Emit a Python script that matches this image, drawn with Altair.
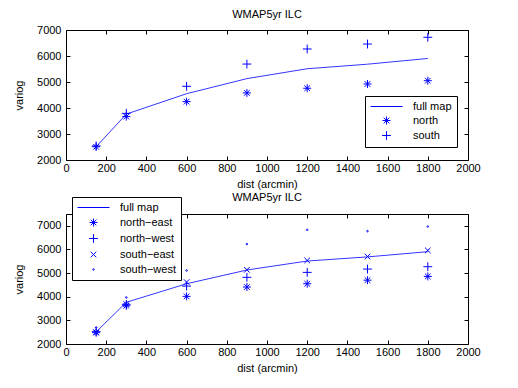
import altair as alt
import pandas as pd

# ---- data ----
dist = [150, 300, 600, 900, 1200, 1500, 1800]
full_map = [2510, 3765, 4550, 5130, 5510, 5685, 5905]

north = [2510, 3670, 4245, 4580, 4760, 4925, 5050]
south = [2540, 3795, 4835, 5690, 6270, 6460, 6720]

north_east = [2480, 3620, 4015, 4410, 4550, 4700, 4860]
north_west = [2520, 3680, 4450, 4820, 5030, 5170, 5270]
south_east = [2500, 3690, 4620, 5140, 5535, 5700, 5960]
south_west = [2700, 3970, 5110, 6225, 6830, 6775, 6970]

x_ticks = list(range(0, 2001, 200))
y_ticks = [2000, 3000, 4000, 5000, 6000, 7000]

FONT = "Liberation Sans"
BLUE = "#0000ff"

LINE_PATH = "M-4,0L4,0"
ASTER = "M-1,0L1,0M0,-1L0,1M-0.7,-0.7L0.7,0.7M-0.7,0.7L0.7,-0.7"
PLUS = "M-1.1,0L1.1,0M0,-1.1L0,1.1"
XMARK = "M-0.7,-0.7L0.7,0.7M-0.7,0.7L0.7,-0.7"
DOT = "M-0.2,0A0.2,0.2,0,1,0,0.2,0A0.2,0.2,0,1,0,-0.2,0Z"


def panel(names, values, paths, ydomain, lx, ly, title_offset, row_pad):
    line_df = pd.DataFrame({"dist": dist, "variog": full_map})
    rows = []
    for name, vals in zip(names, values):
        for d, v in zip(dist, vals):
            rows.append({"dist": d, "variog": v, "series": name})
    pts_df = pd.DataFrame(rows)

    xscale = alt.Scale(domain=[0, 2000], nice=False, zero=False)
    yscale = alt.Scale(domain=ydomain, nice=False, zero=False)

    x_main = alt.Axis(orient="bottom", values=x_ticks, title="dist (arcmin)",
                      format="d", offset=-4, tickSize=4, labelPadding=2,
                      titlePadding=5, domain=False, grid=False, labelFlush=False)
    y_main = alt.Axis(orient="left", values=y_ticks, title="variog", format="d",
                      offset=-4, tickSize=4, labelPadding=5, titlePadding=12,
                      domain=False, grid=False)
    x_sec = alt.Axis(orient="top", values=x_ticks, title=None, labels=False,
                     offset=-4, tickSize=4, domain=False, grid=False)
    y_sec = alt.Axis(orient="right", values=y_ticks, title=None, labels=False,
                     offset=-4, tickSize=4, domain=False, grid=False)

    line = alt.Chart(line_df).mark_line(color=BLUE, strokeWidth=0.8).encode(
        x=alt.X("dist:Q", scale=xscale, axis=x_main),
        y=alt.Y("variog:Q", scale=yscale, axis=y_main),
    )
    pts = alt.Chart(pts_df).mark_point(
        filled=False, color=BLUE, strokeWidth=1, size=64, opacity=1
    ).encode(
        x=alt.X("dist:Q", scale=xscale, axis=x_sec),
        y=alt.Y("variog:Q", scale=yscale, axis=y_sec),
        shape=alt.Shape(
            "series:N",
            scale=alt.Scale(domain=["full map"] + names, range=[LINE_PATH] + paths),
            legend=alt.Legend(
                title=None, orient="none", legendX=lx, legendY=ly,
                strokeColor="black", fillColor="white", padding=5,
                symbolSize=64, symbolStrokeWidth=1, symbolStrokeColor=BLUE,
                symbolOffset=11, labelOffset=21, rowPadding=row_pad,
                labelFont=FONT, labelFontSize=11, labelColor="black",
            ),
        ),
    )
    return alt.layer(line, pts).properties(
        width=402, height=130,
        title=alt.TitleParams("WMAP5yr ILC", frame="group", offset=title_offset),
    )


top = panel(["north", "south"], [north, south], [ASTER, PLUS],
            [2000, 7000], 299, 66, 4, 2)
bottom = panel(["north\u2212east", "north\u2212west", "south\u2212east", "south\u2212west"],
               [north_east, north_west, south_east, south_west],
               [ASTER, PLUS, XMARK, DOT], [2000, 7500], 6, -17, -6, 3)

chart = (
    alt.vconcat(top, bottom, spacing=54, bounds="flush")
    .resolve_scale(x="independent", y="independent", shape="independent")
    .configure_view(stroke="black", strokeWidth=1)
    .configure_axis(labelFont=FONT, labelFontSize=11, titleFont=FONT,
                    titleFontSize=11, titleFontWeight="normal",
                    labelColor="black", titleColor="black", tickColor="black")
    .configure_title(font=FONT, fontSize=11, fontWeight="normal", color="black")
    .properties(padding={"left": 5, "top": 0, "right": 5, "bottom": 5},
                background="white")
)

chart.save("out.html", embed_options={"renderer": "svg", "actions": False})
